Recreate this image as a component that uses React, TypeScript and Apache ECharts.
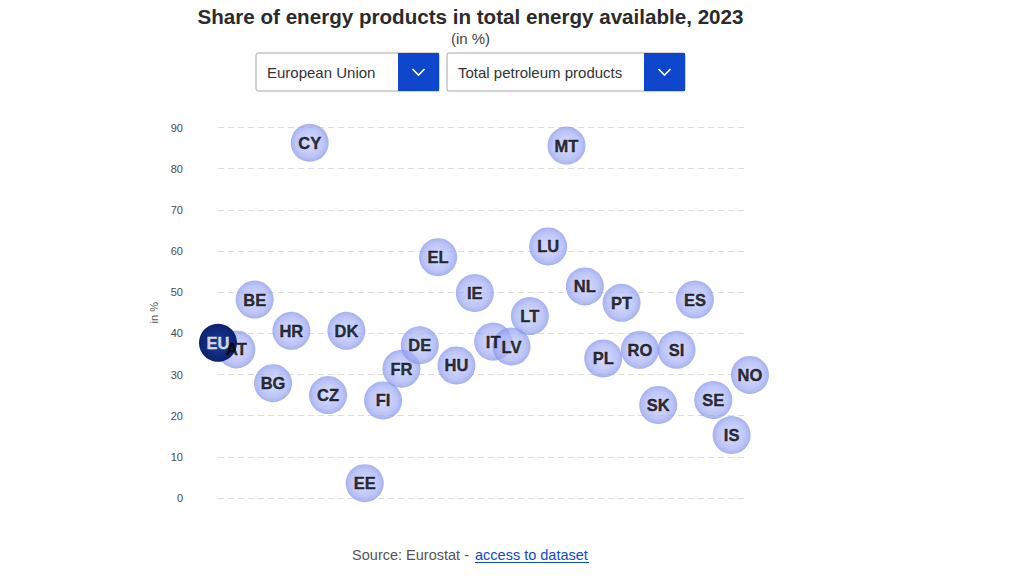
import React, { useEffect, useRef } from "react";
import * as echarts from "echarts";

const codes = ["EU", "AT", "BE", "BG", "HR", "CY", "CZ", "DK", "EE", "FI", "FR", "DE", "EL", "HU", "IE", "IT", "LV", "LT", "LU", "MT", "NL", "PL", "PT", "RO", "SK", "SI", "ES", "SE", "IS", "NO"];
const values = [37.7, 36.1, 48.2, 27.9, 40.6, 86.3, 25.0, 40.6, 3.6, 23.7, 31.4, 37.1, 58.5, 32.2, 49.8, 38.0, 36.8, 44.2, 61.1, 85.6, 51.4, 33.9, 47.4, 36.0, 22.6, 36.0, 48.2, 23.8, 15.3, 29.9];
const yTicks = [0, 10, 20, 30, 40, 50, 60, 70, 80, 90];

const titleText = "Share of energy products in total energy available, 2023";
const subtitleText = "(in %)";
const geoSelect = "European Union";
const productSelect = "Total petroleum products";
const yAxisName = "in %";
const sourceText = "Source: Eurostat - ";
const linkText = "access to dataset";

const FONT = "'Liberation Sans', Arial, sans-serif";
const BLUE = "#0e47cb";

function dropdown(x: number, w: number, label: string) {
  const y = 53;
  const h = 38;
  const bw = 41;
  const bx = x + w - bw;
  const cx = bx + bw / 2;
  const cy = y + h / 2;
  return [
    { type: "rect", shape: { x, y, width: w, height: h, r: 2 }, style: { fill: "#fff", stroke: "#a6a6a6", lineWidth: 1 } },
    { type: "rect", shape: { x: bx, y: y, width: bw, height: h }, style: { fill: BLUE } },
    { type: "polyline", shape: { points: [[cx - 6, cy - 3], [cx, cy + 3], [cx + 6, cy - 3]] }, style: { stroke: "#fff", lineWidth: 1.6, fill: "none" } },
    { type: "text", x: x + 11, y: cy, style: { text: label, font: `15px ${FONT}`, fill: "#333", textVerticalAlign: "middle", textAlign: "left" } },
  ];
}

export default function App() {
  const ref = useRef<HTMLDivElement>(null);
  useEffect(() => {
    if (!ref.current) return;
    const chart = echarts.init(ref.current, null, { renderer: "svg" });
    const bubbleColor = {
      type: "radial", x: 0.5, y: 0.5, r: 0.5,
      colorStops: [
        { offset: 0, color: "rgba(200,208,250,0.88)" },
        { offset: 0.75, color: "rgba(160,172,243,0.88)" },
        { offset: 1, color: "rgba(130,146,237,0.9)" },
      ],
    };
    const euColor = {
      type: "radial", x: 0.5, y: 0.5, r: 0.5,
      colorStops: [
        { offset: 0, color: "#1d3a98" },
        { offset: 1, color: "#0a2270" },
      ],
    };
    const all = codes.map((c, i) => ({ value: [i, values[i]], name: c }));
    const countryData = all.filter((d) => d.name !== "EU");
    const euData = all.filter((d) => d.name === "EU");
    const labelData = all.map((d) => ({
      ...d,
      label: d.name === "EU"
        ? { color: "#fff", textBorderColor: "#fff", textBorderWidth: 0.3 }
        : { color: "#000", textBorderColor: "#000", textBorderWidth: 0.4 },
    }));
    chart.setOption({
      animation: false,
      textStyle: { fontFamily: FONT },
      grid: { left: 218, right: 279, top: 127.5, bottom: 78, containLabel: false },
      xAxis: {
        type: "value", min: 0, max: 28.73, show: false,
        splitLine: { show: false },
      },
      yAxis: {
        type: "value", min: yTicks[0], max: yTicks[yTicks.length - 1], interval: 10,
        name: yAxisName, nameLocation: "middle", nameGap: 58, nameRotate: 90,
        nameTextStyle: { color: "#555", fontSize: 11 },
        axisLine: { show: false }, axisTick: { show: false },
        axisLabel: { color: "#4a4a4a", fontSize: 11, margin: 35 },
        splitLine: { lineStyle: { color: "#dcdcdc", type: [6, 4], width: 1 } },
      },
      graphic: [
        { type: "text", x: 470.5, y: 16, style: { text: titleText, font: `bold 20.6px ${FONT}`, fill: "#2b2b2b", textAlign: "center", textVerticalAlign: "middle" } },
        { type: "text", x: 470.5, y: 38, style: { text: subtitleText, font: `15px ${FONT}`, fill: "#444", textAlign: "center", textVerticalAlign: "middle" } },
        ...dropdown(256, 183, geoSelect),
        ...dropdown(447, 238, productSelect),
        { type: "text", x: 473, y: 555, style: { text: sourceText, font: `14.5px ${FONT}`, fill: "#555", textAlign: "right", textVerticalAlign: "middle" } },
        { type: "text", x: 475, y: 555, style: { text: linkText, font: `14.5px ${FONT}`, fill: BLUE, textAlign: "left", textVerticalAlign: "middle" } },
        { type: "line", shape: { x1: 475, y1: 562.5, x2: 589, y2: 562.5 }, style: { stroke: BLUE, lineWidth: 1 } },
      ],
      series: [
        {
          type: "scatter", data: countryData, symbolSize: 38, clip: false, z: 2,
          itemStyle: { color: bubbleColor },
          label: { show: false },
        },
        {
          type: "scatter", data: euData, symbolSize: 38, clip: false, z: 3,
          itemStyle: { color: euColor, opacity: 1 },
          label: { show: false },
        },
        {
          type: "scatter", data: labelData, symbolSize: 38, clip: false, z: 4,
          itemStyle: { color: "rgba(0,0,0,0)" },
          label: { show: true, position: "inside", formatter: "{b}", fontWeight: "bold", fontSize: 16.5, fontFamily: FONT },
        },
      ],
    });
    return () => chart.dispose();
  }, []);
  return <div ref={ref} style={{ position: "fixed", left: 0, top: 0, width: 1024, height: 576, background: "#fff" }} />;
}
